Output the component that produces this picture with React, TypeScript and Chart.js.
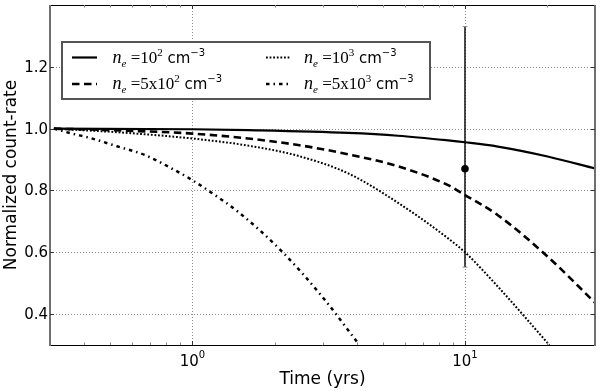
import React, { useEffect, useRef } from "react";
import { Chart, registerables } from "chart.js";

Chart.register(...registerables);

// ---- data ----
const timeNe1e2 = [0.31, 1.0, 1.6, 3.73, 5.68, 8.67, 10, 13.2, 20.1, 30];
const rateNe1e2 = [1.0, 0.998, 0.995, 0.986, 0.977, 0.962, 0.956, 0.942, 0.91, 0.871];

const timeNe5e2 = [0.31, 0.5, 1.0, 1.6, 2.44, 3.73, 5.68, 8.67, 10, 13.2, 20.1, 30];
const rateNe5e2 = [1.0, 0.995, 0.984, 0.968, 0.947, 0.917, 0.878, 0.817, 0.785, 0.72, 0.586, 0.437];

const timeNe1e3 = [0.31, 0.536, 1.0, 1.6, 2.44, 3.73, 5.68, 8.67, 10, 13.2, 20.4];
const rateNe1e3 = [1.0, 0.988, 0.968, 0.945, 0.912, 0.855, 0.76, 0.645, 0.6, 0.489, 0.3];

const timeNe5e3 = [0.31, 0.361, 0.416, 0.528, 0.671, 0.852, 1.0, 1.177, 1.47, 2.15, 3.02, 4.05];
const rateNe5e3 = [1.0, 0.984, 0.971, 0.943, 0.914, 0.868, 0.833, 0.792, 0.731, 0.599, 0.452, 0.306];

const obsTime = [10];
const obsRate = [0.87];
const obsLow = [0.552];
const obsHigh = [1.33];

const xMin = 0.3;
const xMax = 30;
const yMin = 0.3;
const yMax = 1.4;
const yTickValues = [0.4, 0.6, 0.8, 1.0, 1.2];
const yTickLabels = ["0.4", "0.6", "0.8", "1.0", "1.2"];
const xMajorTicks = [1, 10];
const xMajorExponents = ["0", "1"];
const xMinorTicks = [0.4, 0.5, 0.6, 0.7, 0.8, 0.9, 2, 3, 4, 5, 6, 7, 8, 9, 20];

const legendParts = [
  { exp: "2", mant: "" },
  { exp: "2", mant: "5x" },
  { exp: "3", mant: "" },
  { exp: "3", mant: "5x" },
];

const styles = [
  { dash: [] as number[], width: 2.2 },
  { dash: [7.5, 4.5], width: 2.6 },
  { dash: [1.8, 1.8], width: 2 },
  { dash: [3.5, 4, 1.5, 4], width: 2.5 },
];

const toPts = (xs: number[], ys: number[]) => xs.map((x, i) => ({ x, y: ys[i] }));

const SANS = '"DejaVu Sans", sans-serif';
const SERIF = '"Liberation Serif", "DejaVu Serif", serif';

function drawLegendText(ctx: CanvasRenderingContext2D, x: number, y: number, mant: string, exp: string) {
  const parts = [
    { t: "n", f: `italic 18px ${SERIF}`, dy: 0 },
    { t: "e", f: `italic 11px ${SERIF}`, dy: 4 },
    { t: " =" + mant + "10", f: `17px ${SERIF}`, dy: 0 },
    { t: exp, f: `11px ${SERIF}`, dy: -7 },
    { t: " cm", f: `15px ${SANS}`, dy: 0 },
    { t: "\u22123", f: `10px ${SANS}`, dy: -7 },
  ];
  let cx = x;
  ctx.textAlign = "left";
  ctx.textBaseline = "alphabetic";
  for (const p of parts) {
    ctx.font = p.f;
    ctx.fillText(p.t, cx, y + p.dy);
    cx += ctx.measureText(p.t).width;
  }
}

const decorPlugin = {
  id: "decor",
  beforeDatasetsDraw(chart: any) {
    const { ctx, chartArea: a, scales } = chart;
    const xs = scales.x;
    const ys = scales.y;
    ctx.save();
    ctx.strokeStyle = "#8c8c8c";
    ctx.lineWidth = 1;
    ctx.setLineDash([1, 2]);
    for (const v of xMajorTicks) {
      const px = Math.round(xs.getPixelForValue(v)) + 0.5;
      ctx.beginPath();
      ctx.moveTo(px, a.top);
      ctx.lineTo(px, a.bottom);
      ctx.stroke();
    }
    for (const v of yTickValues) {
      const py = Math.round(ys.getPixelForValue(v)) + 0.5;
      ctx.beginPath();
      ctx.moveTo(a.left, py);
      ctx.lineTo(a.right, py);
      ctx.stroke();
    }
    ctx.restore();
  },
  afterDatasetsDraw(chart: any) {
    const { ctx, chartArea: a, scales } = chart;
    const xs = scales.x;
    const ys = scales.y;
    ctx.save();
    ctx.setLineDash([]);
    // frame
    ctx.strokeStyle = "#000";
    ctx.lineWidth = 1;
    ctx.beginPath();
    ctx.moveTo(a.left, a.top + 0.5);
    ctx.lineTo(a.right, a.top + 0.5);
    ctx.moveTo(a.left, a.bottom + 0.5);
    ctx.lineTo(a.right, a.bottom + 0.5);
    ctx.stroke();
    ctx.strokeStyle = "#707070";
    ctx.lineWidth = 2;
    ctx.beginPath();
    ctx.moveTo(a.left, a.top);
    ctx.lineTo(a.left, a.bottom + 1);
    ctx.moveTo(a.right, a.top);
    ctx.lineTo(a.right, a.bottom + 1);
    ctx.stroke();

    // ticks
    ctx.strokeStyle = "#333";
    ctx.lineWidth = 1;
    ctx.beginPath();
    for (const v of xMajorTicks) {
      const px = Math.round(xs.getPixelForValue(v)) + 0.5;
      ctx.moveTo(px, a.bottom);
      ctx.lineTo(px, a.bottom - 4);
      ctx.moveTo(px, a.top);
      ctx.lineTo(px, a.top + 4);
    }
    for (const v of yTickValues) {
      const py = Math.round(ys.getPixelForValue(v)) + 0.5;
      ctx.moveTo(a.left, py);
      ctx.lineTo(a.left + 4, py);
      ctx.moveTo(a.right, py);
      ctx.lineTo(a.right - 4, py);
    }
    ctx.stroke();
    ctx.strokeStyle = "#888";
    ctx.beginPath();
    for (const v of xMinorTicks) {
      const px = Math.round(xs.getPixelForValue(v)) + 0.5;
      ctx.moveTo(px, a.bottom);
      ctx.lineTo(px, a.bottom - 2.5);
      ctx.moveTo(px, a.top);
      ctx.lineTo(px, a.top + 2.5);
    }
    ctx.stroke();

    // tick labels
    ctx.fillStyle = "#000";
    ctx.font = `15px ${SANS}`;
    ctx.textAlign = "right";
    ctx.textBaseline = "middle";
    yTickValues.forEach((v, i) => {
      ctx.fillText(yTickLabels[i], a.left - 2, ys.getPixelForValue(v) + 1);
    });
    xMajorTicks.forEach((v, i) => {
      const px = xs.getPixelForValue(v);
      ctx.font = `15px ${SANS}`;
      const w1 = ctx.measureText("10").width;
      ctx.font = `10px ${SANS}`;
      const w2 = ctx.measureText(xMajorExponents[i]).width;
      const start = px - (w1 + w2) / 2;
      ctx.textAlign = "left";
      ctx.textBaseline = "alphabetic";
      ctx.font = `15px ${SANS}`;
      ctx.fillText("10", start, 366);
      ctx.font = `10px ${SANS}`;
      ctx.fillText(xMajorExponents[i], start + w1, 358);
    });

    // axis titles
    ctx.font = `17px ${SANS}`;
    ctx.textAlign = "center";
    ctx.textBaseline = "middle";
    ctx.fillText("Time (yrs)", (a.left + a.right) / 2, 380);
    ctx.save();
    ctx.translate(12, (a.top + a.bottom) / 2);
    ctx.rotate(-Math.PI / 2);
    ctx.fillText("Normalized count-rate", 0, 0);
    ctx.restore();

    // legend
    const lx = 62, ly = 42, lw = 368, lh = 57;
    ctx.fillStyle = "#fff";
    ctx.fillRect(lx, ly, lw, lh);
    ctx.strokeStyle = "#555";
    ctx.lineWidth = 2;
    ctx.strokeRect(lx, ly, lw, lh);
    const rows = [57.5, 84];
    const cols = [{ s: 72, e: 97, t: 112.5 }, { s: 266, e: 291, t: 304 }];
    const order = [
      { c: 0, r: 0 },
      { c: 0, r: 1 },
      { c: 1, r: 0 },
      { c: 1, r: 1 },
    ];
    order.forEach((o, i) => {
      const col = cols[o.c];
      const y = rows[o.r];
      ctx.strokeStyle = "#000";
      ctx.lineWidth = styles[i].width;
      ctx.setLineDash(styles[i].dash);
      ctx.beginPath();
      ctx.moveTo(col.s, y);
      ctx.lineTo(col.e, y);
      ctx.stroke();
      ctx.setLineDash([]);
      ctx.fillStyle = "#000";
      drawLegendText(ctx, col.t, y + 5, legendParts[i].mant, legendParts[i].exp);
    });
    ctx.restore();
  },
};

export default function App() {
  const ref = useRef<HTMLCanvasElement | null>(null);
  useEffect(() => {
    document.body.style.margin = "0";
    const canvas = ref.current!;
    const curves = [
      toPts(timeNe1e2, rateNe1e2),
      toPts(timeNe5e2, rateNe5e2),
      toPts(timeNe1e3, rateNe1e3),
      toPts(timeNe5e3, rateNe5e3),
    ];
    const curveSets = curves.map((d, i) => ({
      data: d,
      borderColor: "#000",
      borderWidth: styles[i].width,
      borderDash: styles[i].dash,
      borderCapStyle: "butt" as const,
      pointRadius: 0,
      fill: false,
      cubicInterpolationMode: "monotone" as const,
      order: 2,
    }));
    const errSets = obsTime.map((t, i) => ({
      data: [
        { x: t, y: obsLow[i] },
        { x: t, y: obsHigh[i] },
      ],
      borderColor: "#000",
      borderWidth: 1.4,
      pointStyle: "line" as const,
      pointRadius: 2.5,
      pointBorderColor: "#888",
      pointBorderWidth: 1,
      fill: false,
      order: 1,
    }));
    const obsSet = {
      data: toPts(obsTime, obsRate),
      showLine: false,
      pointRadius: 3.8,
      pointBackgroundColor: "#000",
      pointBorderColor: "#000",
      pointBorderWidth: 0,
      order: 0,
    };
    const chart = new Chart(canvas, {
      type: "line",
      data: { datasets: [...curveSets, ...errSets, obsSet] as any },
      options: {
        responsive: false,
        animation: false,
        parsing: true,
        layout: { padding: { top: 4, right: 3, left: 0, bottom: 0 } },
        plugins: { legend: { display: false }, tooltip: { enabled: false } },
        events: [],
        scales: {
          x: {
            type: "logarithmic",
            min: xMin,
            max: xMax,
            ticks: { display: false },
            grid: { display: false },
            border: { display: false },
            afterFit: (s: any) => {
              s.height = 46;
            },
          },
          y: {
            type: "linear",
            min: yMin,
            max: yMax,
            ticks: { display: false },
            grid: { display: false },
            border: { display: false },
            afterFit: (s: any) => {
              s.width = 50;
            },
          },
        },
      } as any,
      plugins: [decorPlugin],
    });
    return () => chart.destroy();
  }, []);
  return (
    <div style={{ width: 600, height: 391, background: "#fff" }}>
      <canvas ref={ref} width={600} height={391} style={{ display: "block" }} />
    </div>
  );
}
